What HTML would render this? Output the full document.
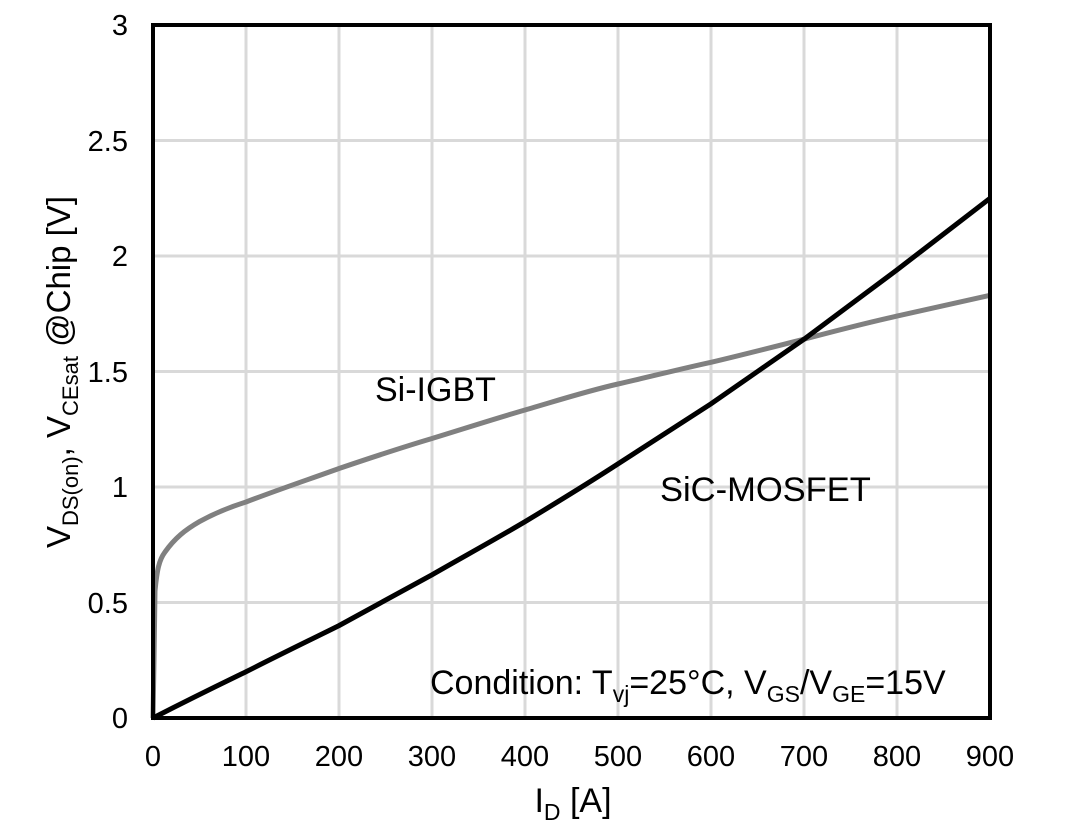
<!DOCTYPE html>
<html><head><meta charset="utf-8"><style>
html,body{margin:0;padding:0;background:#fff;}
svg{display:block;font-family:"Liberation Sans",Arial,sans-serif;}
</style></head><body>
<svg width="1080" height="840" viewBox="0 0 1080 840" xmlns="http://www.w3.org/2000/svg">
<rect width="1080" height="840" fill="#fff"/>
<g stroke="#d9d9d9" stroke-width="3">
<line x1="246" y1="25" x2="246" y2="718"/><line x1="339" y1="25" x2="339" y2="718"/>
<line x1="432" y1="25" x2="432" y2="718"/><line x1="525" y1="25" x2="525" y2="718"/>
<line x1="618" y1="25" x2="618" y2="718"/><line x1="711" y1="25" x2="711" y2="718"/>
<line x1="804" y1="25" x2="804" y2="718"/><line x1="897" y1="25" x2="897" y2="718"/>
<line x1="153" y1="602.5" x2="990" y2="602.5"/><line x1="153" y1="487" x2="990" y2="487"/>
<line x1="153" y1="371.5" x2="990" y2="371.5"/><line x1="153" y1="256" x2="990" y2="256"/>
<line x1="153" y1="140.5" x2="990" y2="140.5"/>
</g>
<path d="M153,718 L154,660 L155,591 C157,570 159,560 165,552 C175,538 185,530 199.5,521.6 C215,513 230,507 246,502 C280,489 310,479 339,468.5 C370,458 400,448 432,438.5 C463,429 494,419 525,410 C556,401 587,391 618,384 C649,377 680,369 711,362.3 C742,355 773,347 804,339.2 C835,331 866,323 897,316.1 C928,309 959,302 990,295.3" fill="none" stroke="#808080" stroke-width="5"/>
<path d="M153,718 C200,694 223,683 246,671.8 C277,656 308,641 339,625.6 C370,609 401,592 432,574.8 C463,557 494,540 525,521.7 C556,503 587,484 618,463.9 C649,444 680,424 711,403.8 C742,382 773,361 804,339.2 C835,316 866,293 897,269.9 C928,246 959,222 990,198.3" fill="none" stroke="#000" stroke-width="5"/>
<rect x="153" y="25" width="837" height="693" fill="none" stroke="#000" stroke-width="4"/>
<g font-size="29" fill="#000" text-anchor="end">
<text x="128" y="728">0</text><text x="128" y="613">0.5</text><text x="128" y="497">1</text>
<text x="128" y="382">1.5</text><text x="128" y="266">2</text><text x="128" y="151">2.5</text>
<text x="128" y="35">3</text>
</g>
<g font-size="29" fill="#000" text-anchor="middle">
<text x="153" y="766">0</text><text x="246" y="766">100</text><text x="339" y="766">200</text>
<text x="432" y="766">300</text><text x="525" y="766">400</text><text x="618" y="766">500</text>
<text x="711" y="766">600</text><text x="804" y="766">700</text><text x="897" y="766">800</text>
<text x="990" y="766">900</text>
</g>
<text x="573" y="812" font-size="34" text-anchor="middle">I<tspan font-size="23" dy="8">D</tspan><tspan dy="-8"> [A]</tspan></text>
<text transform="translate(70,372) rotate(-90)" font-size="33" text-anchor="middle">V<tspan font-size="22" dy="8">DS(on)</tspan><tspan dy="-8">, V</tspan><tspan font-size="22" dy="8">CEsat</tspan><tspan dy="-8"> @Chip [V]</tspan></text>
<text x="375" y="401" font-size="34">Si-IGBT</text>
<text x="660" y="501" font-size="34.5">SiC-MOSFET</text>
<text x="430" y="694" font-size="34">Condition: T<tspan font-size="23" dy="8">vj</tspan><tspan dy="-8">=25°C, V</tspan><tspan font-size="23" dy="8">GS</tspan><tspan dy="-8">/V</tspan><tspan font-size="23" dy="8">GE</tspan><tspan dy="-8">=15V</tspan></text>
</svg>
</body></html>
